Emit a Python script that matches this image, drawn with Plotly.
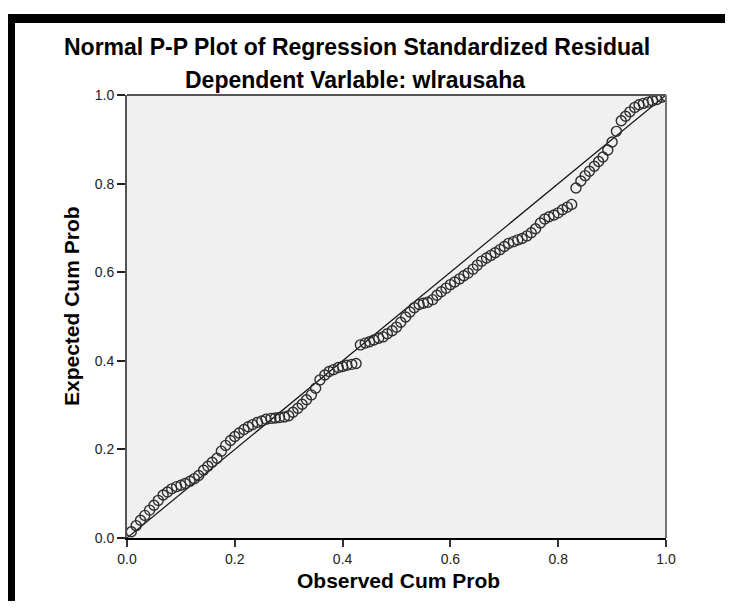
import plotly.graph_objects as go

observed_cum_prob = [
    0.008, 0.017, 0.025, 0.033, 0.042, 0.050, 0.058, 0.067, 0.075, 0.083,
    0.092, 0.100, 0.108, 0.117, 0.125, 0.133, 0.142, 0.150, 0.158, 0.167,
    0.175, 0.183, 0.192, 0.200, 0.208, 0.217, 0.225, 0.233, 0.242, 0.250,
    0.258, 0.267, 0.275, 0.283, 0.292, 0.300, 0.308, 0.317, 0.325, 0.333,
    0.342, 0.350, 0.358, 0.367, 0.375, 0.383, 0.392, 0.400, 0.408, 0.417,
    0.425, 0.433, 0.442, 0.450, 0.458, 0.467, 0.475, 0.483, 0.492, 0.500,
    0.508, 0.517, 0.525, 0.533, 0.542, 0.550, 0.558, 0.567, 0.575, 0.583,
    0.592, 0.600, 0.608, 0.617, 0.625, 0.633, 0.642, 0.650, 0.658, 0.667,
    0.675, 0.683, 0.692, 0.700, 0.708, 0.717, 0.725, 0.733, 0.742, 0.750,
    0.758, 0.767, 0.775, 0.783, 0.792, 0.800, 0.808, 0.817, 0.825, 0.833,
    0.842, 0.850, 0.858, 0.867, 0.875, 0.883, 0.892, 0.900, 0.908, 0.917,
    0.925, 0.933, 0.942, 0.950, 0.958, 0.967, 0.975, 0.983, 0.992, 1.000,
]
expected_cum_prob = [
    0.014, 0.028, 0.040, 0.051, 0.063, 0.074, 0.085, 0.097, 0.104, 0.111,
    0.116, 0.119, 0.123, 0.128, 0.134, 0.141, 0.153, 0.162, 0.171, 0.180,
    0.196, 0.209, 0.220, 0.229, 0.237, 0.245, 0.251, 0.256, 0.261, 0.264,
    0.268, 0.270, 0.271, 0.272, 0.273, 0.276, 0.284, 0.293, 0.302, 0.312,
    0.323, 0.338, 0.357, 0.368, 0.376, 0.380, 0.385, 0.387, 0.390, 0.392,
    0.394, 0.436, 0.440, 0.443, 0.447, 0.451, 0.454, 0.461, 0.468, 0.476,
    0.487, 0.499, 0.510, 0.520, 0.527, 0.530, 0.532, 0.538, 0.548, 0.556,
    0.564, 0.572, 0.578, 0.585, 0.592, 0.598, 0.607, 0.616, 0.625, 0.632,
    0.638, 0.644, 0.651, 0.658, 0.665, 0.669, 0.673, 0.676, 0.682, 0.689,
    0.698, 0.711, 0.720, 0.725, 0.729, 0.734, 0.741, 0.747, 0.753, 0.790,
    0.806, 0.818, 0.828, 0.839, 0.850, 0.860, 0.876, 0.894, 0.918, 0.942,
    0.952, 0.962, 0.972, 0.978, 0.981, 0.984, 0.987, 0.990, 0.995, 0.998,
]
reference_line = [0.0, 1.0]
tick_values = [0.0, 0.2, 0.4, 0.6, 0.8, 1.0]
tick_labels = ["0.0", "0.2", "0.4", "0.6", "0.8", "1.0"]

title_text = "Normal P-P Plot of Regression Standardized Residual"
subtitle_text = "Dependent Varlable: wlrausaha"
x_title = "Observed Cum Prob"
y_title = "Expected Cum Prob"

FONT = "Liberation Sans, Arial, sans-serif"
OFF = 8  # page body margin
W, H = 733 - OFF, 609 - 2 * OFF
# plot area in screen pixels
SX0, SX1, SY0, SY1 = 127, 666, 95, 538
L, T = SX0 - OFF, SY0 - OFF
pw, ph = SX1 - SX0, SY1 - SY0
R, B = W - L - pw, H - T - ph

def px(x):
    return (x - SX0) / pw

def py(y):
    return (SY1 - y) / ph

fig = go.Figure()
fig.add_trace(go.Scatter(
    x=reference_line, y=reference_line, mode="lines",
    line=dict(color="#111111", width=1.2), hoverinfo="skip", showlegend=False,
))
fig.add_trace(go.Scatter(
    x=observed_cum_prob, y=expected_cum_prob, mode="markers",
    marker=dict(symbol="circle-open", size=10, color="#2e2e2e", line=dict(width=1.4)),
    showlegend=False,
))

shapes = [
    # black frame (top and left)
    dict(type="rect", xref="paper", yref="paper", x0=px(7), x1=px(760), y0=py(23), y1=py(14),
         fillcolor="black", line=dict(width=0), layer="above"),
    dict(type="rect", xref="paper", yref="paper", x0=px(7), x1=px(15), y0=py(640), y1=py(14),
         fillcolor="black", line=dict(width=0), layer="above"),
    # top and right plot border
    dict(type="line", xref="paper", yref="paper", x0=0, x1=1, y0=1, y1=1,
         line=dict(color="#555555", width=2)),
    dict(type="line", xref="paper", yref="paper", x0=1, x1=1, y0=0, y1=1,
         line=dict(color="#777777", width=2)),
]

annotations = [
    dict(text="<b>" + title_text + "</b>", x=px(357), y=py(47), xref="paper", yref="paper", showarrow=False,
         font=dict(family=FONT, size=23, color="black"), xanchor="center", yanchor="middle"),
    dict(text="<b>" + subtitle_text + "</b>", x=px(355), y=py(80), xref="paper", yref="paper", showarrow=False,
         font=dict(family=FONT, size=23, color="black"), xanchor="center", yanchor="middle"),
    dict(text="<b>" + x_title + "</b>", x=px(398), y=py(580), xref="paper", yref="paper", showarrow=False,
         font=dict(family=FONT, size=21, color="black"), xanchor="center", yanchor="middle"),
    dict(text="<b>" + y_title + "</b>", x=px(71), y=py(306), xref="paper", yref="paper", showarrow=False,
         textangle=-90, font=dict(family=FONT, size=21, color="black"), xanchor="center", yanchor="middle"),
]

fig.update_layout(
    width=W, height=H,
    margin=dict(l=L, r=R, t=T, b=B, pad=0),
    paper_bgcolor="white", plot_bgcolor="#F0F0F0",
    shapes=shapes, annotations=annotations,
    xaxis=dict(range=[0, 1], tickvals=tick_values, ticktext=tick_labels, showgrid=False, zeroline=False,
               showline=True, linecolor="black", linewidth=2, ticks="outside", ticklen=7, tickwidth=2,
               tickcolor="#333333", tickfont=dict(family=FONT, size=14, color="#222222")),
    yaxis=dict(range=[0, 1], tickvals=tick_values, ticktext=tick_labels, showgrid=False, zeroline=False,
               showline=True, linecolor="#555555", linewidth=2, ticks="outside", ticklen=8, tickwidth=2,
               tickcolor="#222222", tickfont=dict(family=FONT, size=14, color="#222222")),
)

fig.write_html("out.html")
